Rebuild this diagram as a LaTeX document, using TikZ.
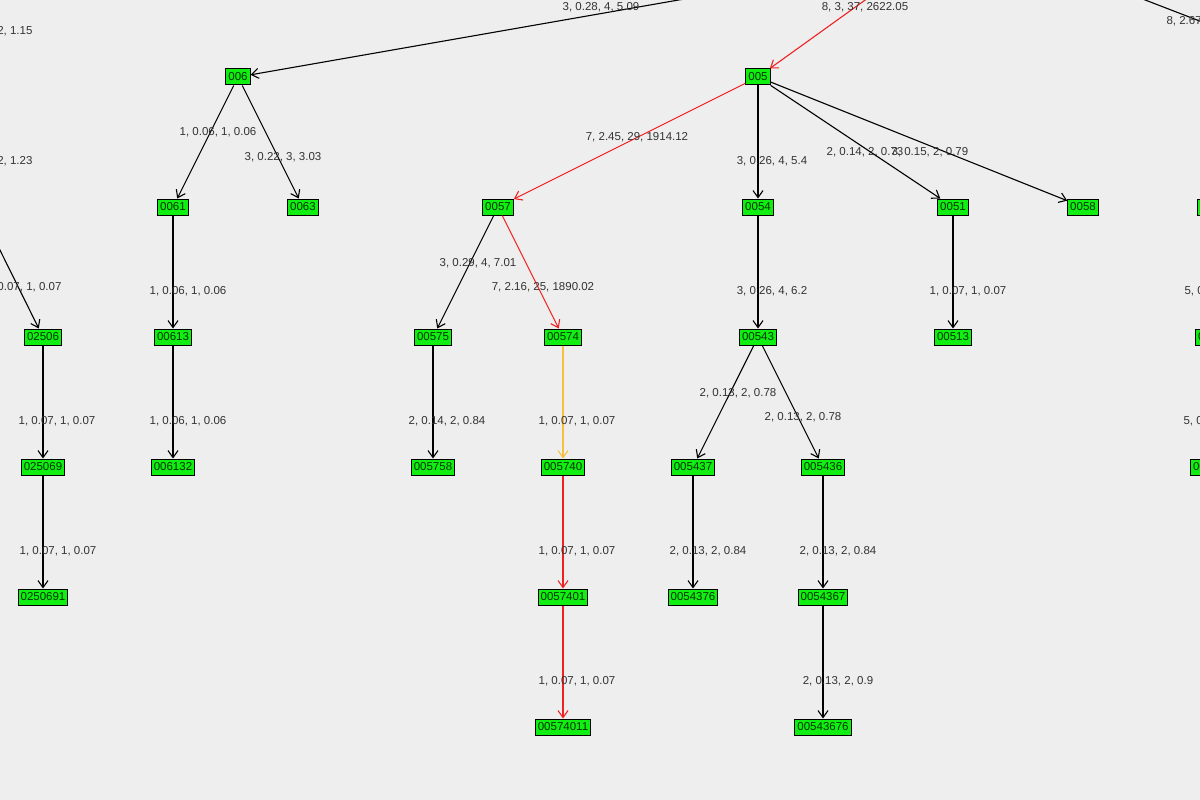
\documentclass[tikz,border=0pt]{standalone}
\usepackage{fontspec}
\setmainfont{Liberation Sans}
\usetikzlibrary{arrows.meta}
\definecolor{bg}{HTML}{EEEEEE}
\definecolor{ng}{HTML}{11EE11}
\definecolor{er}{HTML}{EE2222}
\definecolor{eo}{HTML}{F5C040}
\definecolor{tx}{HTML}{333333}
\begin{document}
\begin{tikzpicture}[x=1pt,y=-1pt,line width=1.1pt,
  nd/.style={draw=black,line width=1pt,fill=ng,inner xsep=2.5pt,inner ysep=1.5pt,minimum height=16pt,font=\fontsize{11.5}{12}\selectfont,text=black!80!green},
  ed/.style={draw=black,-{Straight Barb[length=7pt,width=10pt]}},
  re/.style={ed,draw=er},
  oe/.style={ed,draw=eo},
  lb/.style={font=\fontsize{11.5}{13}\selectfont,text=tx,inner sep=0pt}]
\useasboundingbox (0,0) rectangle (1200,800);
\fill[bg] (0,0) rectangle (1200,800);
\clip (0,0) rectangle (1200,800);
% nodes
\node[nd] (n006) at (238,77) {006};
\node[nd] (n005) at (758,77) {005};
\node[nd] (n0061) at (173,207) {0061};
\node[nd] (n0063) at (303,207) {0063};
\node[nd] (n0057) at (498,207) {0057};
\node[nd] (n0054) at (758,207) {0054};
\node[nd] (n0051) at (953,207) {0051};
\node[nd] (n0058) at (1083,207) {0058};
\node[nd,anchor=west] (nr1) at (1197,207) {00};
\node[nd] (n02506) at (43,337) {02506};
\node[nd] (n00613) at (173,337) {00613};
\node[nd] (n00575) at (433,337) {00575};
\node[nd] (n00574) at (563,337) {00574};
\node[nd] (n00543) at (758,337) {00543};
\node[nd] (n00513) at (953,337) {00513};
\node[nd,anchor=west] (nr2) at (1195,337) {005};
\node[nd] (n025069) at (43,467) {025069};
\node[nd] (n006132) at (173,467) {006132};
\node[nd] (n005758) at (433,467) {005758};
\node[nd] (n005740) at (563,467) {005740};
\node[nd] (n005437) at (693,467) {005437};
\node[nd] (n005436) at (823,467) {005436};
\node[nd,anchor=west] (nr3) at (1190,467) {0059};
\node[nd] (n0250691) at (43,597) {0250691};
\node[nd] (n0057401) at (563,597) {0057401};
\node[nd] (n0054376) at (693,597) {0054376};
\node[nd] (n0054367) at (823,597) {0054367};
\node[nd] (n00574011) at (563,727) {00574011};
\node[nd] (n00543676) at (823,727) {00543676};
\coordinate (t1) at (690,-2);
\coordinate (t2) at (900,-25);
\coordinate (t3) at (1140,-2);
\coordinate (t4) at (1210,25);
\coordinate (l1) at (-10,230);
% edges
\draw[ed] (t1) -- (n006);
\draw[re] (t2) -- (n005);
\draw[black] (t3) -- (t4);
\draw[ed] (l1) -- (n02506);
\draw[ed] (n006) -- (n0061);
\draw[ed] (n006) -- (n0063);
\draw[re] (n005) -- (n0057);
\draw[ed] (n005) -- (n0054);
\draw[ed] (n005) -- (n0051);
\draw[ed] (n005) -- (n0058);
\draw[ed] (n0061) -- (n00613);
\draw[ed] (n0057) -- (n00575);
\draw[re] (n0057) -- (n00574);
\draw[ed] (n0054) -- (n00543);
\draw[ed] (n0051) -- (n00513);
\draw[ed] (n02506) -- (n025069);
\draw[ed] (n00613) -- (n006132);
\draw[ed] (n00575) -- (n005758);
\draw[oe] (n00574) -- (n005740);
\draw[ed] (n00543) -- (n005437);
\draw[ed] (n00543) -- (n005436);
\draw[ed] (n025069) -- (n0250691);
\draw[re] (n005740) -- (n0057401);
\draw[ed] (n005437) -- (n0054376);
\draw[ed] (n005436) -- (n0054367);
\draw[re] (n0057401) -- (n00574011);
\draw[ed] (n0054367) -- (n00543676);
% labels
\node[lb] (a1) at (601,7) {3, 0.28, 4, 5.09};
\node[lb] (a2) at (865,7) {8, 3, 37, 2622.05};
\node[lb,anchor=west] (a3) at (1166,21) {8, 2.67};
\node[lb,anchor=east] (a4) at (33,31) {2, 2, 1.15};
\node[lb,anchor=east] (a5) at (33,161) {2, 2, 1.23};
\node[lb,anchor=east] (a6) at (62,287) {1, 0.07, 1, 0.07};
\node[lb] (a7) at (218,132) {1, 0.06, 1, 0.06};
\node[lb] (a8) at (283,157) {3, 0.22, 3, 3.03};
\node[lb] (a9) at (637,137) {7, 2.45, 29, 1914.12};
\node[lb] (a10) at (772,161) {3, 0.26, 4, 5.4};
\node[lb] (a11) at (865,152) {2, 0.14, 2, 0.73};
\node[lb,anchor=west] (a12) at (891,152) {3, 0.15, 2, 0.79};
\node[lb] (a13) at (478,263) {3, 0.29, 4, 7.01};
\node[lb] (a14) at (543,287) {7, 2.16, 25, 1890.02};
\node[lb] (a15) at (188,291) {1, 0.06, 1, 0.06};
\node[lb] (a16) at (772,291) {3, 0.26, 4, 6.2};
\node[lb] (a17) at (968,291) {1, 0.07, 1, 0.07};
\node[lb,anchor=west] (a18) at (1184,291) {5, 0.5, 5, 0.5};
\node[lb] (a19) at (57,421) {1, 0.07, 1, 0.07};
\node[lb] (a20) at (188,421) {1, 0.06, 1, 0.06};
\node[lb] (a21) at (447,421) {2, 0.14, 2, 0.84};
\node[lb] (a22) at (577,421) {1, 0.07, 1, 0.07};
\node[lb] (a23) at (738,393) {2, 0.13, 2, 0.78};
\node[lb] (a24) at (803,417) {2, 0.13, 2, 0.78};
\node[lb,anchor=west] (a25) at (1183,421) {5, 0.5, 5, 0.5};
\node[lb] (a26) at (58,551) {1, 0.07, 1, 0.07};
\node[lb] (a27) at (577,551) {1, 0.07, 1, 0.07};
\node[lb] (a28) at (708,551) {2, 0.13, 2, 0.84};
\node[lb] (a29) at (838,551) {2, 0.13, 2, 0.84};
\node[lb] (a30) at (577,681) {1, 0.07, 1, 0.07};
\node[lb] (a31) at (838,681) {2, 0.13, 2, 0.9};
\end{tikzpicture}
\end{document}
